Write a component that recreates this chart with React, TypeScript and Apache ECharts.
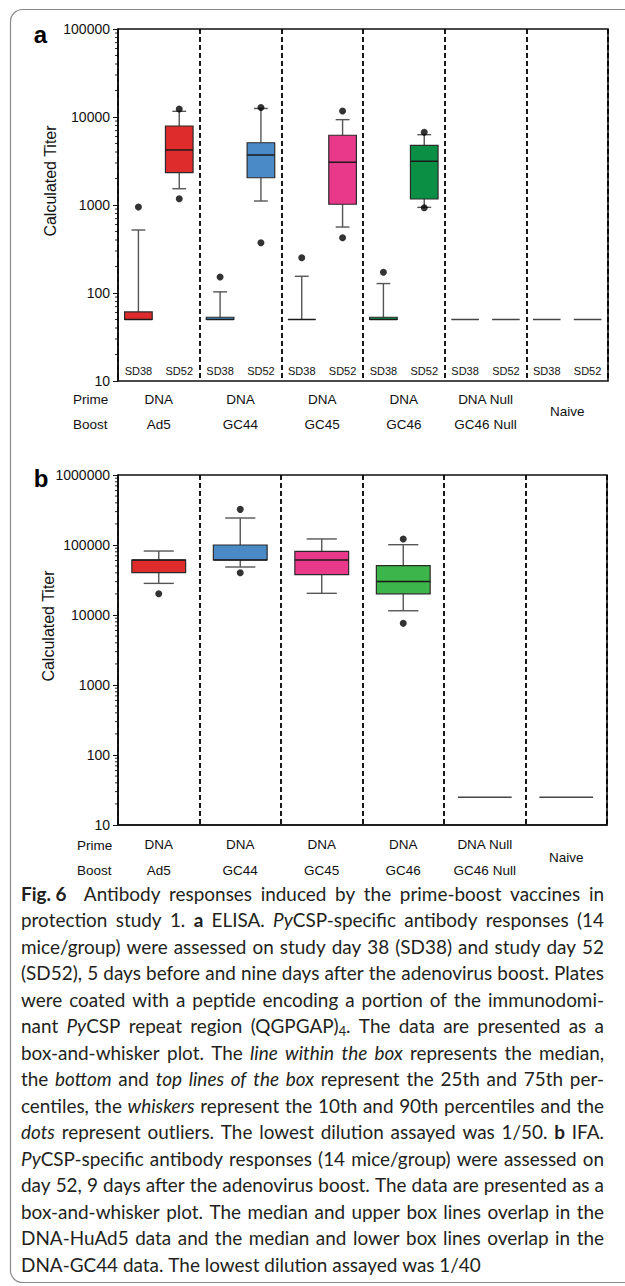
import React, { useEffect, useRef } from 'react';
import * as echarts from 'echarts';

const W = 625;
const H = 1286;
const AX_FONT = '"Liberation Sans", Arial, Helvetica, sans-serif';
const CAP_FONT = 'Lato, "Open Sans", sans-serif';
const INK = '#111111';

// ---------- categories / labels ----------
const sdLabels = ['SD38', 'SD52', 'SD38', 'SD52', 'SD38', 'SD52', 'SD38', 'SD52', 'SD38', 'SD52', 'SD38', 'SD52'];
const groupLabels = ['DNA\nAd5', 'DNA\nGC44', 'DNA\nGC45', 'DNA\nGC46', 'DNA Null\nGC46 Null', 'Naive'];
const rowLabels = ['Prime', 'Boost'];

// ---------- panel a: ELISA, [low whisker, q1, median, q3, high whisker] ----------
const elisaBoxes = [
  [50, 50, 50, 61, 520],
  [1530, 2330, 4220, 7900, 11600],
  [50, 50, 50, 53, 103],
  [1110, 2040, 3700, 5100, 12500],
  [50, 50, 50, 50, 155],
  [562, 1020, 3060, 6200, 9330],
  [50, 50, 50, 53, 128],
  [940, 1170, 3140, 4760, 6300],
  [50, 50, 50, 50, 50],
  [50, 50, 50, 50, 50],
  [50, 50, 50, 50, 50],
  [50, 50, 50, 50, 50],
];
const elisaOutliers = [
  [0, 950], [1, 12300], [1, 1180], [2, 152], [3, 12800], [3, 373],
  [4, 252], [5, 11700], [5, 425], [6, 172], [7, 6700], [7, 930],
];
const elisaColors = ['#dd2c2b', '#dd2c2b', '#4a8ac6', '#4a8ac6', '#e8398a', '#e8398a', '#0a8f45', '#0a8f45', null, null, null, null];

// ---------- panel b: IFA ----------
const ifaBoxes = [
  [28300, 40200, 61100, 61100, 82000],
  [48500, 61100, 61100, 100000, 243000],
  [20400, 37700, 61100, 81300, 122000],
  [11500, 20100, 30200, 50600, 101000],
  [25, 25, 25, 25, 25],
  [25, 25, 25, 25, 25],
];
const ifaOutliers = [[0, 20100], [1, 323000], [1, 40200], [3, 122000], [3, 7600]];
const ifaColors = ['#dd2c2b', '#4a8ac6', '#e8398a', '#3cb54a', null, null];

// ---------- caption ----------
const captionLines = [
  '*Fig.\u00a06*  Antibody responses induced by the prime-boost vaccines in',
  'protection study 1. *a* ELISA. _Py_CSP-specific antibody responses (14',
  'mice/group) were assessed on study day 38 (SD38) and study day 52',
  '(SD52), 5 days before and nine days after the adenovirus boost. Plates',
  'were coated with a peptide encoding a portion of the immunodomi-',
  'nant _Py_CSP repeat region (QGPGAP)~4~. The data are presented as a',
  'box-and-whisker plot. The _line_ _within_ _the_ _box_ represents the median,',
  'the _bottom_ and _top_ _lines_ _of_ _the_ _box_ represent the 25th and 75th per-',
  'centiles, the _whiskers_ represent the 10th and 90th percentiles and the',
  '_dots_ represent outliers. The lowest dilution assayed was 1/50. *b* IFA.',
  '_Py_CSP-specific antibody responses (14 mice/group) were assessed on',
  'day 52, 9 days after the adenovirus boost. The data are presented as a',
  'box-and-whisker plot. The median and upper box lines overlap in the',
  'DNA-HuAd5 data and the median and lower box lines overlap in the',
  'DNA-GC44 data. The lowest dilution assayed was 1/40',
];

type Seg = { t: string; b: boolean; i: boolean; sub: boolean };

function parseWord(w: string): Seg[] {
  const segs: Seg[] = [];
  let b = false, i = false, sub = false, cur = '';
  for (const ch of w) {
    if (ch === '*' || ch === '_' || ch === '~') {
      if (cur) segs.push({ t: cur, b, i, sub });
      cur = '';
      if (ch === '*') b = !b;
      else if (ch === '_') i = !i;
      else sub = !sub;
    } else cur += ch;
  }
  if (cur) segs.push({ t: cur, b, i, sub });
  return segs;
}

function buildCaption(): any[] {
  const CAP_L = 21;
  const CAP_R = 604;
  const CAP_W = CAP_R - CAP_L;
  const Y0 = 893;
  const STEP = 26.5;
  const ctx = document.createElement('canvas').getContext('2d') as CanvasRenderingContext2D;
  const segSize = (s: Seg, size: number) => (s.sub ? size * 0.68 : size);
  const fontStr = (s: Seg, size: number) =>
    `${s.i ? 'italic ' : ''}${s.b ? '700' : '400'} ${segSize(s, size)}px ${CAP_FONT}`;
  const segW = (s: Seg, size: number) => {
    ctx.font = fontStr(s, size);
    return ctx.measureText(s.t).width;
  };
  const spaceW = (size: number) => {
    ctx.font = `400 ${size}px ${CAP_FONT}`;
    return ctx.measureText(' ').width;
  };
  const parsed = captionLines.map((l) => l.split(' ').map(parseWord));
  const wordW = (w: Seg[], size: number) => w.reduce((a, s) => a + segW(s, size), 0);
  const natural = (line: Seg[][], size: number) =>
    line.reduce((a, w) => a + wordW(w, size), 0) + spaceW(size) * (line.length - 1);
  const base = 20;
  let maxNat = 0;
  parsed.forEach((l, k) => {
    if (k < parsed.length - 1) maxNat = Math.max(maxNat, natural(l, base));
  });
  const size = Math.min(20, (base * (CAP_W - 3)) / maxNat);
  const els: any[] = [];
  parsed.forEach((line, k) => {
    const y = Y0 + k * STEP;
    const justify = k < parsed.length - 1;
    const nat = natural(line, size);
    const gaps = line.length - 1;
    const gap = spaceW(size) + (justify && gaps > 0 ? (CAP_W - nat) / gaps : 0);
    let x = CAP_L;
    line.forEach((w) => {
      w.forEach((s) => {
        els.push({
          type: 'text',
          x,
          y: y + (s.sub ? size * 0.3 : 0),
          silent: true,
          style: {
            text: s.t,
            fontSize: segSize(s, size),
            fontFamily: CAP_FONT,
            fontWeight: s.b ? 'bold' : 'normal',
            fontStyle: s.i ? 'italic' : 'normal',
            fill: '#231f20',
            align: 'left',
            verticalAlign: 'middle',
          },
        });
        x += segW(s, size);
      });
      x += gap;
    });
  });
  return els;
}

function makeBoxRender(colors: (string | null)[], boxRatio: number, capRatio: number) {
  return (params: any, api: any) => {
    const idx = api.value(0);
    const v = [1, 2, 3, 4, 5].map((d) => api.value(d));
    const band = api.size([1, 0], [idx, 100])[0];
    const bw = band * boxRatio;
    const cw = bw * capRatio;
    const cx = api.coord([idx, v[2]])[0];
    const y = v.map((val: number) => api.coord([idx, val])[1]);
    const color = colors[params.dataIndex];
    const children: any[] = [];
    if (!color) {
      children.push({
        type: 'line',
        shape: { x1: cx - bw / 2, y1: y[2], x2: cx + bw / 2, y2: y[2] },
        style: { stroke: '#444', lineWidth: 1.5 },
      });
      return { type: 'group', children };
    }
    const ws = { stroke: '#555', lineWidth: 1.4 };
    if (v[4] > v[3]) {
      children.push({ type: 'line', shape: { x1: cx, y1: y[4], x2: cx, y2: y[3] }, style: ws });
      children.push({ type: 'line', shape: { x1: cx - cw / 2, y1: y[4], x2: cx + cw / 2, y2: y[4] }, style: ws });
    }
    if (v[0] < v[1]) {
      children.push({ type: 'line', shape: { x1: cx, y1: y[1], x2: cx, y2: y[0] }, style: ws });
      children.push({ type: 'line', shape: { x1: cx - cw / 2, y1: y[0], x2: cx + cw / 2, y2: y[0] }, style: ws });
    }
    children.push({
      type: 'rect',
      shape: { x: cx - bw / 2, y: y[3], width: bw, height: Math.max(0, y[1] - y[3]) },
      style: { fill: color, stroke: '#2a2a2a', lineWidth: 1.2 },
    });
    children.push({
      type: 'line',
      shape: { x1: cx - bw / 2, y1: y[2], x2: cx + bw / 2, y2: y[2] },
      style: { stroke: '#1a1a1a', lineWidth: 1.5 },
    });
    return { type: 'group', children };
  };
}

function makeMinorTicks(minExp: number, maxExp: number) {
  return (params: any, api: any) => {
    const x0 = params.coordSys.x;
    const children: any[] = [];
    for (let e = minExp; e < maxExp; e++) {
      for (let m = 2; m <= 9; m++) {
        const yy = api.coord([0, m * Math.pow(10, e)])[1];
        children.push({
          type: 'line',
          shape: { x1: x0 - 3, y1: yy, x2: x0, y2: yy },
          style: { stroke: INK, lineWidth: 0.9 },
        });
      }
    }
    return { type: 'group', children };
  };
}

function buildOption(): any {
  const groupAxisLabel = (margin: number) => ({
    interval: 0,
    margin,
    fontSize: 13.5,
    lineHeight: 25.4,
    color: INK,
    fontFamily: AX_FONT,
    formatter: (val: string) => (val.indexOf('\n') >= 0 ? val : `{one|${val}}`),
    rich: {
      one: { lineHeight: 50.8, fontSize: 13.5, fontFamily: AX_FONT, color: INK, verticalAlign: 'middle' },
    },
  });
  const dashed = { show: true, interval: 0, lineStyle: { type: [5, 3], color: '#000', width: 1.8 } };
  const yAxisBase = (gridIndex: number, max: number) => ({
    gridIndex,
    type: 'log',
    logBase: 10,
    min: 10,
    max,
    axisLine: { show: true, lineStyle: { color: INK, width: 1.6 } },
    axisTick: { show: true, length: 5, lineStyle: { color: INK, width: 1 } },
    axisLabel: {
      fontSize: 14,
      color: INK,
      margin: 8,
      fontFamily: AX_FONT,
      formatter: (val: number) => String(Math.round(val)),
    },
    splitLine: { show: false },
  });

  const rowText = (x: number, y: number, t: string) => ({
    type: 'text',
    x,
    y,
    silent: true,
    style: { text: t, fontSize: 13.5, fontFamily: AX_FONT, fill: INK, align: 'left', verticalAlign: 'middle' },
  });
  const titleText = (x: number, y: number) => ({
    type: 'text',
    x,
    y,
    rotation: Math.PI / 2,
    silent: true,
    style: { text: 'Calculated Titer', fontSize: 16, fontFamily: AX_FONT, fill: INK, align: 'center', verticalAlign: 'middle' },
  });
  const panelLetter = (x: number, y: number, t: string) => ({
    type: 'text',
    x,
    y,
    silent: true,
    style: { text: t, fontSize: 24, fontWeight: 'bold', fontFamily: AX_FONT, fill: '#000', align: 'center', verticalAlign: 'middle' },
  });

  return {
    animation: false,
    backgroundColor: '#ffffff',
    grid: [
      { left: 118, top: 29, width: 490, height: 352, show: true, borderColor: INK, borderWidth: 1.6 },
      { left: 118, top: 475, width: 489, height: 350, show: true, borderColor: INK, borderWidth: 1.6 },
    ],
    xAxis: [
      {
        gridIndex: 0,
        type: 'category',
        data: sdLabels,
        position: 'top',
        offset: -352,
        axisLine: { show: false },
        axisTick: { show: false },
        axisLabel: { interval: 0, margin: 5, fontSize: 11, color: INK, fontFamily: AX_FONT },
        splitLine: { show: false },
      },
      {
        gridIndex: 0,
        type: 'category',
        data: groupLabels,
        position: 'bottom',
        axisLine: { show: false },
        axisTick: { show: false },
        axisLabel: groupAxisLabel(5.6),
        splitLine: dashed,
      },
      {
        gridIndex: 1,
        type: 'category',
        data: groupLabels,
        position: 'bottom',
        axisLine: { show: true, lineStyle: { color: INK, width: 1.6 } },
        axisTick: { show: false },
        axisLabel: groupAxisLabel(7.3),
        splitLine: dashed,
      },
    ],
    yAxis: [yAxisBase(0, 100000), yAxisBase(1, 1000000)],
    series: [
      {
        type: 'custom',
        xAxisIndex: 0,
        yAxisIndex: 0,
        data: elisaBoxes.map((b, i) => [i, ...b]),
        encode: { x: 0, y: [1, 2, 3, 4, 5] },
        renderItem: makeBoxRender(elisaColors, 0.676, 0.5),
        z: 3,
        silent: true,
      },
      {
        type: 'scatter',
        xAxisIndex: 0,
        yAxisIndex: 0,
        data: elisaOutliers,
        symbol: 'circle',
        symbolSize: 7,
        itemStyle: { color: '#000' },
        z: 4,
        silent: true,
      },
      {
        type: 'custom',
        xAxisIndex: 2,
        yAxisIndex: 1,
        data: ifaBoxes.map((b, i) => [i, ...b]),
        encode: { x: 0, y: [1, 2, 3, 4, 5] },
        renderItem: makeBoxRender(ifaColors, 0.66, 0.56),
        z: 3,
        silent: true,
      },
      {
        type: 'scatter',
        xAxisIndex: 2,
        yAxisIndex: 1,
        data: ifaOutliers,
        symbol: 'circle',
        symbolSize: 7,
        itemStyle: { color: '#000' },
        z: 4,
        silent: true,
      },
      {
        type: 'custom',
        xAxisIndex: 0,
        yAxisIndex: 0,
        data: [[0, 10]],
        renderItem: makeMinorTicks(1, 5),
        clip: false,
        silent: true,
      },
      {
        type: 'custom',
        xAxisIndex: 2,
        yAxisIndex: 1,
        data: [[0, 10]],
        renderItem: makeMinorTicks(1, 6),
        clip: false,
        silent: true,
      },
    ],
    graphic: [
      {
        type: 'rect',
        silent: true,
        shape: { x: 10.5, y: 9.5, width: 700, height: 1273, r: 12 },
        style: { fill: 'none', stroke: '#8a8a8a', lineWidth: 1.2 },
      },
      panelLetter(40.5, 34, 'a'),
      panelLetter(41, 478, 'b'),
      titleText(50, 181),
      titleText(48, 626),
      rowText(73, 399.3, rowLabels[0]),
      rowText(73, 424.7, rowLabels[1]),
      rowText(77, 845, rowLabels[0]),
      rowText(77, 870, rowLabels[1]),
      ...buildCaption(),
    ],
  };
}

export default function App() {
  const ref = useRef<HTMLDivElement>(null);
  useEffect(() => {
    document.body.style.margin = '0';
    const chart = echarts.init(ref.current as HTMLDivElement, null, { renderer: 'svg', width: W, height: H });
    chart.setOption(buildOption());
    return () => chart.dispose();
  }, []);
  return <div ref={ref} style={{ width: W, height: H }} />;
}
